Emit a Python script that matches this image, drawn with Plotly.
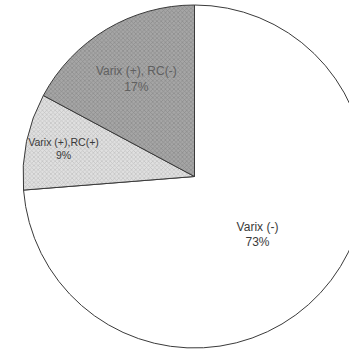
import plotly.graph_objects as go

labels = ["Varix (-)", "Varix (+),RC(+)", "Varix (+), RC(-)"]
values = [73, 9, 17]
pct_text = ["73%", "9%", "17%"]

fills = ["#ffffff", "#e0e0e0", "#a6a6a6"]
pattern_fg = ["#ffffff", "#c0c0c0", "#8a8a8a"]
text_colors = ["#3a3a3a", "#3a3a3a", "#606060"]

fig = go.Figure(go.Pie(
    labels=labels,
    values=values,
    text=pct_text,
    sort=False,
    direction="clockwise",
    rotation=0,
    texttemplate="%{label}<br>%{text}",
    textposition="inside",
    insidetextorientation="horizontal",
    textfont=dict(family="Liberation Sans, Arial, sans-serif", size=12, color=text_colors),
    marker=dict(
        colors=fills,
        line=dict(color="#3a3a3a", width=1),
        pattern=dict(shape=["", "x", "x"], fgcolor=pattern_fg, bgcolor=fills, size=3, solidity=0.4),
    ),
    hoverinfo="skip",
    showlegend=False,
    domain=dict(x=[0, 1], y=[0, 1]),
))

fig.update_layout(
    width=368,
    height=349,
    margin=dict(l=23, r=2, t=5, b=1),
    paper_bgcolor="white",
    plot_bgcolor="white",
)

fig.write_html("out.html", post_script="document.body.style.margin='0';document.body.style.overflow='hidden';document.documentElement.style.overflow='hidden';")
